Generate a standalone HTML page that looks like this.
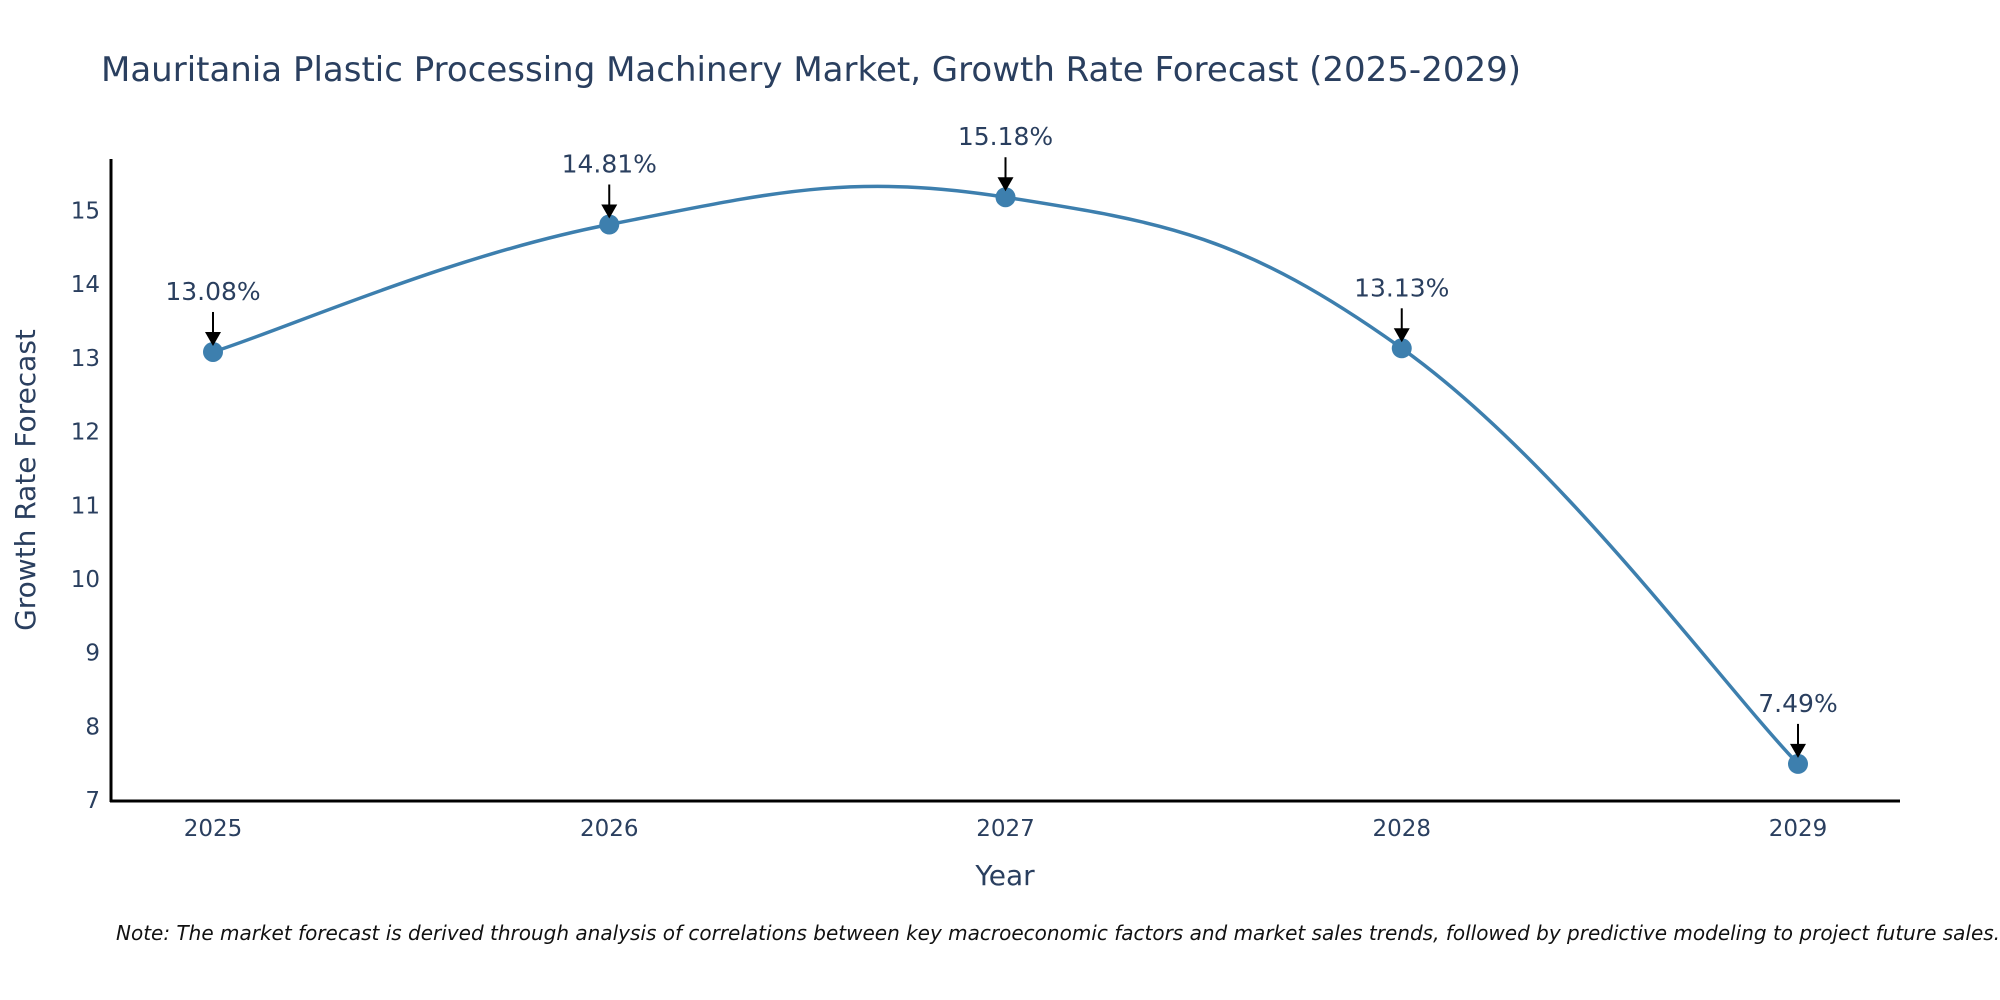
<!DOCTYPE html>
<html><head><meta charset="utf-8"><style>
body{margin:0;background:#fff;}
svg{display:block;font-family:"DejaVu Sans","Liberation Sans",sans-serif;}
</style></head><body>
<svg id="chart" width="2000" height="1000" viewBox="0 0 2000 1000">
<text x="101" y="81" font-size="34" fill="#2a3f5f">Mauritania Plastic Processing Machinery Market, Growth Rate Forecast (2025-2029)</text>
<g id="yticks"></g>
<g id="xticks"></g>
<line x1="111" y1="159" x2="111" y2="802" stroke="#000" stroke-width="3"/>
<line x1="110" y1="801" x2="1900" y2="801" stroke="#000" stroke-width="3"/>
<path id="curve" fill="none" stroke="#3d7fae" stroke-width="3.5"/>
<g id="marks"></g>
<text x="1005" y="885" font-size="28" fill="#2a3f5f" text-anchor="middle">Year</text>
<text transform="translate(35,480) rotate(-90)" font-size="28" fill="#2a3f5f" text-anchor="middle">Growth Rate Forecast</text>
<text x="116" y="940" font-size="20" font-style="italic" fill="#111">Note: The market forecast is derived through analysis of correlations between key macroeconomic factors and market sales trends, followed by predictive modeling to project future sales.</text>
</svg>
<script>
const years = [2025, 2026, 2027, 2028, 2029];
const growth = [13.08, 14.81, 15.18, 13.13, 7.49];
const labels = ["13.08%", "14.81%", "15.18%", "13.13%", "7.49%"];
const yTicks = [7, 8, 9, 10, 11, 12, 13, 14, 15];

const NS = "http://www.w3.org/2000/svg";
function xs(v){ return 213 + (v - 2025) * (1798 - 213) / 4; }
function ys(v){ return 800 - (v - 7) * (800 - 210.5) / 8; }
function mk(tag, attrs, parent){ const e = document.createElementNS(NS, tag); for (const k in attrs) e.setAttribute(k, attrs[k]); parent.appendChild(e); return e; }

const yg = document.getElementById('yticks');
yTicks.forEach(t => {
  const e = mk('text', {x: 100, y: ys(t) + 8, 'font-size': 23, fill: '#2a3f5f', 'text-anchor': 'end'}, yg);
  
  
  e.textContent = t;
});
const xg = document.getElementById('xticks');
years.forEach(y => {
  const e = mk('text', {x: xs(y), y: 836, 'font-size': 23, fill: '#2a3f5f', 'text-anchor': 'middle'}, xg);
  
  
  e.textContent = y;
});

const pts = years.map((y, i) => [xs(y), ys(growth[i])]);
let d = `M${pts[0][0]},${pts[0][1]}`;
const k = 5;
for (let i = 0; i < pts.length - 1; i++) {
  const p0 = pts[Math.max(0, i - 1)], p1 = pts[i], p2 = pts[i + 1], p3 = pts[Math.min(pts.length - 1, i + 2)];
  const c1 = [p1[0] + (p2[0] - p0[0]) / k, p1[1] + (p2[1] - p0[1]) / k];
  const c2 = [p2[0] - (p3[0] - p1[0]) / k, p2[1] - (p3[1] - p1[1]) / k];
  d += ` C${c1[0]},${c1[1]} ${c2[0]},${c2[1]} ${p2[0]},${p2[1]}`;
}
document.getElementById('curve').setAttribute('d', d);

const mg = document.getElementById('marks');
pts.forEach((p, i) => {
  const c = mk('circle', {cx: p[0], cy: p[1], r: 10, fill: '#3d7fae'}, mg);
  
  
  const l = mk('line', {x1: p[0], y1: p[1] - 40, x2: p[0], y2: p[1] - 18, stroke: '#000', 'stroke-width': 2}, mg);
  
  
  const h = mk('polygon', {points: `${p[0]-8},${p[1]-20} ${p[0]+8},${p[1]-20} ${p[0]},${p[1]-6}`, fill: '#000'}, mg);
  
  
  const t = mk('text', {x: p[0], y: p[1] - 52, 'font-size': 25, fill: '#2a3f5f', 'text-anchor': 'middle'}, mg);
  
  
  t.textContent = labels[i];
});
</script>
</body></html>
